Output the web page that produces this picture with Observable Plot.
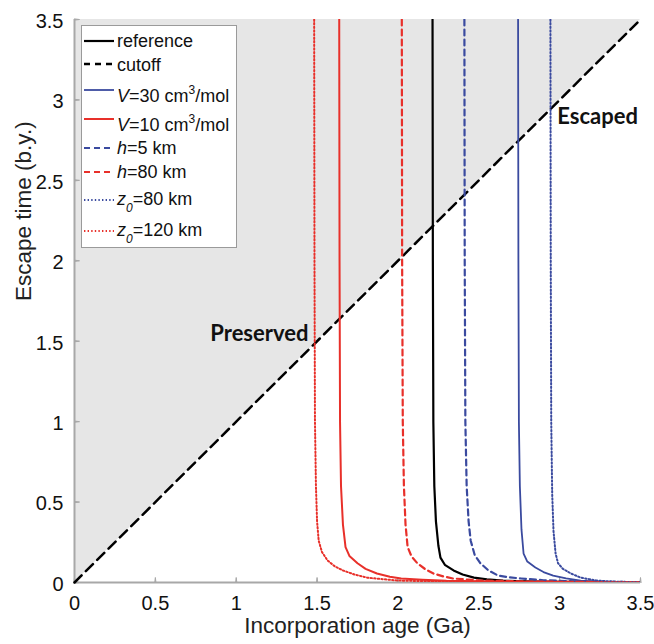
<!DOCTYPE html>
<html>
<head>
<meta charset="utf-8">
<script src="https://cdn.jsdelivr.net/npm/d3@7"></script>
<script src="https://cdn.jsdelivr.net/npm/@observablehq/plot@0.6"></script>
<style>
  body { margin: 0; background: #fff; font-family: "Liberation Sans", Arial, sans-serif; }
  #wrap { position: relative; width: 654px; height: 644px; }
  #legend { position: absolute; left: 81px; top: 25px; width: 156px; height: 223px; border: 1px solid #9a9a9a; background: #fff; box-sizing: border-box; }
  #legend .txt { position: absolute; left: 35px; font-size: 18px; color: #111; white-space: nowrap; line-height: 1; transform: translateY(-50%); }
  #legend svg { position: absolute; left: 0; overflow: visible; }
  sup { font-size: 12px; vertical-align: 8px; line-height: 0; }
  sub { font-size: 12px; vertical-align: -7px; line-height: 0; font-style: italic; }
</style>
</head>
<body>
<div id="wrap"></div>
<script>
// ---- Data ----
const xTicks = [0, 0.5, 1, 1.5, 2, 2.5, 3, 3.5];
const yTicks = [0, 0.5, 1, 1.5, 2, 2.5, 3, 3.5];

const shadeX = [0, 3.5];
const shadeLo = [0, 3.5];
const shadeHi = [3.5, 3.5];

const cutoffX = [0, 3.5];
const cutoffY = [0, 3.5];

const referenceX = [2.214, 2.216, 2.219, 2.225, 2.235, 2.25, 2.263, 2.29, 2.344, 2.40, 2.47, 2.55, 2.65, 2.8, 3.0, 3.5];
const referenceY = [3.5, 2.0, 1.0, 0.6, 0.38, 0.23, 0.155, 0.11, 0.075, 0.05, 0.03, 0.019, 0.012, 0.007, 0.004, 0.001];

const v30X = [2.743, 2.745, 2.748, 2.754, 2.764, 2.777, 2.80, 2.85, 2.90, 2.96, 3.04, 3.13, 3.25, 3.5];
const v30Y = [3.5, 2.0, 1.0, 0.6, 0.33, 0.18, 0.13, 0.093, 0.065, 0.043, 0.025, 0.012, 0.006, 0.002];

const v10X = [1.637, 1.639, 1.642, 1.648, 1.66, 1.676, 1.70, 1.75, 1.80, 1.87, 1.95, 2.02, 2.15, 2.3, 2.6, 3.0, 3.5];
const v10Y = [3.5, 2.0, 1.0, 0.6, 0.36, 0.22, 0.165, 0.12, 0.085, 0.056, 0.036, 0.025, 0.017, 0.011, 0.006, 0.003, 0.001];

const h5X = [2.411, 2.413, 2.417, 2.425, 2.437, 2.45, 2.475, 2.51, 2.56, 2.62, 2.69, 2.76, 2.9, 3.1, 3.5];
const h5Y = [3.5, 2.0, 1.0, 0.6, 0.38, 0.26, 0.17, 0.12, 0.075, 0.043, 0.032, 0.025, 0.014, 0.007, 0.002];

const h80X = [2.024, 2.026, 2.03, 2.037, 2.047, 2.06, 2.085, 2.12, 2.17, 2.22, 2.28, 2.34, 2.5, 2.8, 3.5];
const h80Y = [3.5, 2.0, 1.0, 0.6, 0.36, 0.22, 0.16, 0.12, 0.082, 0.056, 0.038, 0.025, 0.013, 0.006, 0.001];

const z80X = [2.943, 2.945, 2.948, 2.954, 2.962, 2.975, 2.99, 3.02, 3.07, 3.13, 3.23, 3.35, 3.5];
const z80Y = [3.5, 2.0, 1.0, 0.55, 0.32, 0.18, 0.12, 0.085, 0.056, 0.03, 0.012, 0.005, 0.002];

const z120X = [1.482, 1.484, 1.487, 1.493, 1.50, 1.51, 1.53, 1.565, 1.61, 1.66, 1.73, 1.81, 2.0, 2.3, 2.8, 3.5];
const z120Y = [3.5, 2.0, 1.0, 0.6, 0.38, 0.26, 0.19, 0.137, 0.10, 0.075, 0.05, 0.03, 0.012, 0.006, 0.003, 0.001];

const escapedLabel = {t: "Escaped", x: 2.985, y: 2.896};
const preservedLabel = {t: "Preserved", x: 1.447, y: 1.544};

const xLabel = "Incorporation age (Ga)";
const yLabel = "Escape time (b.y.)";

// ---- Styles ----
const RED = "#e8302a", BLUE = "#3a4a9f", BLACK = "#000";
const DASH = "6,4", DOT = "1.4,2.2";
const series = [
  {xs: referenceX, ys: referenceY, color: BLACK, dash: null, w: 2.2},
  {xs: v30X, ys: v30Y, color: BLUE, dash: null, w: 1.8},
  {xs: v10X, ys: v10Y, color: RED, dash: null, w: 2},
  {xs: h5X, ys: h5Y, color: BLUE, dash: DASH, w: 2.2},
  {xs: h80X, ys: h80Y, color: RED, dash: DASH, w: 2.2},
  {xs: z80X, ys: z80Y, color: BLUE, dash: DOT, w: 2},
  {xs: z120X, ys: z120Y, color: RED, dash: DOT, w: 2}
];

const shade = shadeX.map((x, i) => ({x, lo: shadeLo[i], hi: shadeHi[i]}));
const cutoff = cutoffX.map((x, i) => ({x, y: cutoffY[i]}));

const curveMarks = series.map(s => Plot.line(s.xs.map((x, i) => ({x, y: s.ys[i]})), {
  x: "x", y: "y", stroke: s.color, strokeWidth: s.w,
  strokeDasharray: s.dash || undefined, clip: true
}));

const AXIS = "#a8a8a8";
const boldFont = "Lato, 'Open Sans', sans-serif";
const chart = Plot.plot({
  width: 654, height: 644,
  marginLeft: 74, marginRight: 14, marginTop: 19, marginBottom: 62,
  style: {fontFamily: "'Liberation Sans', Arial, sans-serif", color: "#111", background: "transparent"},
  x: {domain: [0, 3.5]},
  y: {domain: [0, 3.5]},
  marks: [
    Plot.areaY(shade, {x: "x", y1: "lo", y2: "hi", fill: "#e6e6e6"}),
    Plot.ruleY([0], {stroke: AXIS, strokeWidth: 2}),
    Plot.ruleX([0], {stroke: AXIS, strokeWidth: 2}),
    Plot.vector(xTicks, {x: d => d, y: 0, length: 5, rotate: 0, anchor: "start", shape: "spike", r: 0.6, stroke: AXIS, fill: AXIS, strokeWidth: 1}),
    Plot.vector(yTicks, {x: 0, y: d => d, length: 5, rotate: 90, anchor: "start", shape: "spike", r: 0.6, stroke: AXIS, fill: AXIS, strokeWidth: 1}),
    Plot.axisX(xTicks, {tickSize: 0, tickPadding: 13, fontSize: 20, label: null, tickFormat: d => String(d)}),
    Plot.axisY(yTicks, {tickSize: 0, tickPadding: 11, fontSize: 20, label: null, dy: 2, tickFormat: d => String(d)}),
    Plot.line(cutoff, {x: "x", y: "y", stroke: "#000", strokeWidth: 2.5, strokeDasharray: "10,6"}),
    ...curveMarks,
    Plot.text([escapedLabel], {x: "x", y: "y", text: "t", textAnchor: "start",
      fontSize: 22, fontWeight: "bold", fontFamily: boldFont, fill: "#111"}),
    Plot.text([preservedLabel], {x: "x", y: "y", text: "t", textAnchor: "end",
      fontSize: 22, fontWeight: "bold", fontFamily: boldFont, fill: "#111"}),
    Plot.text([xLabel], {frameAnchor: "bottom", dy: 50, fontSize: 22.5, fill: "#222"}),
    Plot.text([yLabel], {frameAnchor: "left", rotate: -90, dx: -50.5, fontSize: 22.5, fill: "#222"})
  ]
});
const wrap = document.getElementById("wrap");
wrap.appendChild(chart);

// ---- Legend (HTML overlay) ----
const legendRows = [
  {line: 40.7, text: 40.7, html: "reference", color: BLACK, dash: null, w: 2.2},
  {line: 63.5, text: 64.5, html: "cutoff", color: BLACK, dash: "6,5", w: 2.5},
  {line: 90, text: 96, html: '<i>V</i>=30 cm<sup>3</sup>/mol', color: BLUE, dash: null, w: 1.8},
  {line: 119, text: 125, html: '<i>V</i>=10 cm<sup>3</sup>/mol', color: RED, dash: null, w: 2},
  {line: 147.5, text: 147.5, html: '<i>h</i>=5 km', color: BLUE, dash: DASH, w: 2.2},
  {line: 171.7, text: 171.7, html: '<i>h</i>=80 km', color: RED, dash: DASH, w: 2.2},
  {line: 200, text: 199, html: '<i>z</i><sub>0</sub>=80 km', color: BLUE, dash: DOT, w: 2},
  {line: 230.7, text: 230, html: '<i>z</i><sub>0</sub>=120 km', color: RED, dash: DOT, w: 2}
];
const legend = document.createElement("div");
legend.id = "legend";
const top0 = 25;
for (const r of legendRows) {
  const svgNS = "http://www.w3.org/2000/svg";
  const svg = document.createElementNS(svgNS, "svg");
  svg.setAttribute("width", 34); svg.setAttribute("height", 4);
  svg.style.top = (r.line - top0 - 2 - 1) + "px";
  const ln = document.createElementNS(svgNS, "line");
  ln.setAttribute("x1", 2); ln.setAttribute("x2", 32); ln.setAttribute("y1", 2); ln.setAttribute("y2", 2);
  ln.setAttribute("stroke", r.color); ln.setAttribute("stroke-width", r.w);
  if (r.dash) ln.setAttribute("stroke-dasharray", r.dash);
  svg.appendChild(ln);
  legend.appendChild(svg);
  const t = document.createElement("div");
  t.className = "txt";
  t.style.top = (r.text - top0 - 1) + "px";
  t.innerHTML = r.html;
  legend.appendChild(t);
}
wrap.appendChild(legend);
</script>
</body>
</html>
